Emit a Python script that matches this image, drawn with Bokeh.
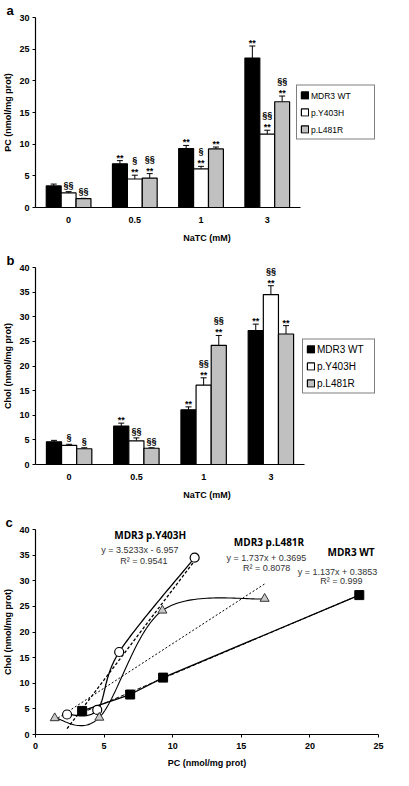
import numpy as np
from bokeh.plotting import figure
from bokeh.layouts import column
from bokeh.models import ColumnDataSource, Range1d, FixedTicker, Legend, LegendItem, Label
from bokeh.core.properties import value
from bokeh.embed import file_html
from bokeh.resources import INLINE

# ---------------- data ----------------
categories = ["0", "0.5", "1", "3"]          # NaTC (mM)
series = ["MDR3 WT", "p.Y403H", "p.L481R"]

pc_wt = [3.4, 6.9, 9.3, 23.6]
pc_y403h = [2.3, 4.5, 6.1, 11.6]
pc_l481r = [1.4, 4.65, 9.25, 16.7]
pc_wt_err = [0.3, 0.5, 0.5, 1.9]
pc_y403h_err = [0.2, 0.6, 0.4, 0.6]
pc_l481r_err = [0.05, 0.7, 0.3, 0.9]
pc_wt_star = ["", "**", "**", "**"]
pc_y403h_star = ["", "**", "**", "**"]
pc_l481r_star = ["", "**", "**", "**"]
pc_wt_sect = ["", "", "", ""]
pc_y403h_sect = ["§§", "§", "§", "§§"]
pc_l481r_sect = ["§§", "§§", "", "§§"]

chol_wt = [4.6, 7.8, 11.1, 27.2]
chol_y403h = [3.9, 4.8, 16.1, 34.5]
chol_l481r = [3.2, 3.3, 24.2, 26.5]
chol_wt_err = [0.3, 0.6, 0.6, 1.3]
chol_y403h_err = [0.2, 0.6, 1.5, 1.8]
chol_l481r_err = [0.2, 0.1, 2.0, 1.7]
chol_wt_star = ["", "**", "**", "**"]
chol_y403h_star = ["", "", "**", "**"]
chol_l481r_star = ["", "", "**", "**"]
chol_wt_sect = ["", "", "", ""]
chol_y403h_sect = ["§", "§§", "§§", "§§"]
chol_l481r_sect = ["§", "§§", "§§", ""]

trend_names = ["MDR3 WT", "MDR3 p.Y403H", "MDR3 p.L481R"]
trend_slope = [1.137, 3.5233, 1.737]
trend_intercept = [0.3853, -6.957, 0.3695]
trend_eq = ["y = 1.137x  + 0.3853", "y = 3.5233x  - 6.957", "y = 1.737x  + 0.3695"]
trend_r2 = ["R² = 0.999", "R² = 0.9541", "R² = 0.8078"]

pc_ticks = [0, 5, 10, 15, 20, 25, 30]
chol_ticks = [0, 5, 10, 15, 20, 25, 30, 35, 40]
pcx_ticks = [0, 5, 10, 15, 20, 25]

# ---------------- style ----------------
FONT = "Liberation Sans"
fill_colors = ["#000000", "#ffffff", "#c0c0c0"]
BAR_W = 0.225


def style_axes(p, letter, letter_offset):
    p.xgrid.visible = False
    p.ygrid.visible = False
    p.outline_line_color = None
    for ax in (p.xaxis[0], p.yaxis[0]):
        ax.axis_line_color = "black"
        ax.axis_line_width = 1.2
        ax.major_label_text_font = FONT
        ax.major_label_text_font_style = "bold"
        ax.major_label_text_font_size = "9px"
        ax.major_label_text_color = "black"
        ax.axis_label_text_font = FONT
        ax.axis_label_text_font_style = "bold"
        ax.axis_label_text_font_size = "9px"
        ax.axis_label_text_color = "black"
        ax.major_tick_in = 0
        ax.major_tick_out = 3
        ax.major_tick_line_color = "black"
        ax.minor_tick_line_color = None
    p.yaxis[0].major_label_standoff = 3
    p.yaxis[0].axis_label_standoff = 3
    # panel letter as the plot title, pushed left of the frame
    p.title.text = letter
    p.title.align = "left"
    p.title.offset = letter_offset
    p.title.standoff = 0
    p.title.text_font = FONT
    p.title.text_font_style = "bold"
    p.title.text_font_size = "13px"
    p.title.text_color = "black"


def bar_panel(height, top_border, bottom_border, right_border, x_end, ymax, yticks, ylabel,
              vals, errs, stars, sects, legend_font, legend_label_w, letter):
    n = len(categories)
    p = figure(width=393, height=height, output_backend="svg", toolbar_location=None,
               title=letter,
               x_range=Range1d(-0.5, x_end), y_range=Range1d(0, ymax),
               min_border_left=30, min_border_right=right_border,
               min_border_top=top_border, min_border_bottom=bottom_border)
    style_axes(p, letter, -29)
    xa = p.xaxis[0]
    centers = list(range(n))
    xa.bounds = (-0.5, n - 0.5)
    xa.ticker = FixedTicker(ticks=centers)
    xa.major_label_overrides = {c: lab for c, lab in zip(centers, categories)}
    xa.major_tick_line_color = None
    xa.major_label_standoff = 6
    xa.axis_label = "NaTC (mM)"
    xa.axis_label_standoff = 7
    ya = p.yaxis[0]
    ya.ticker = FixedTicker(ticks=yticks)
    ya.axis_label = ylabel

    items = []
    ann = {"star": ([], [], []), "low": ([], [], []), "up": ([], [], [])}
    for k, name in enumerate(series):
        xs = [c + (k - 1) * BAR_W for c in centers]
        tops = [v + e for v, e in zip(vals[k], errs[k])]
        src = ColumnDataSource(dict(x=xs, top=vals[k], up=tops))
        p.segment(x0="x", y0="top", x1="x", y1="up", source=src, line_color="black", line_width=1)
        p.scatter(x="x", y="up", source=src, marker="dash", size=6, line_color="black", line_width=1)
        r = p.vbar(x="x", top="top", bottom=0, width=BAR_W, source=src,
                   fill_color=fill_colors[k], line_color="black", line_width=1.2)
        items.append(LegendItem(label=name, renderers=[r]))
        for i in range(n):
            if stars[k][i]:
                for key, t in (("star", stars[k][i]), ("up", sects[k][i])):
                    if t:
                        ann[key][0].append(xs[i]); ann[key][1].append(tops[i]); ann[key][2].append(t)
            elif sects[k][i]:
                ann["low"][0].append(xs[i]); ann["low"][1].append(tops[i]); ann["low"][2].append(sects[k][i])
    for key, off in (("star", -3), ("low", -7), ("up", -15)):
        xs_, ys_, ts_ = ann[key]
        if xs_:
            p.text(x=xs_, y=ys_, text=ts_, y_offset=off, text_align="center",
                   text_baseline="alphabetic", text_font=value(FONT), text_font_style="bold",
                   text_font_size=value("9px"), text_color="black")
    leg = Legend(items=items, location="center_right", orientation="vertical",
                 border_line_color="black", border_line_width=1,
                 background_fill_color="white", background_fill_alpha=1,
                 padding=3, spacing=4, margin=3, label_height=13, label_width=legend_label_w,
                 glyph_height=9, glyph_width=9, label_standoff=2,
                 label_text_font=FONT, label_text_font_size=legend_font,
                 label_text_color="black")
    p.add_layout(leg)
    return p


pa = bar_panel(250, 5, 43, 3, 4.68, 30, pc_ticks, "PC (nmol/mg prot)",
               [pc_wt, pc_y403h, pc_l481r], [pc_wt_err, pc_y403h_err, pc_l481r_err],
               [pc_wt_star, pc_y403h_star, pc_l481r_star],
               [pc_wt_sect, pc_y403h_sect, pc_l481r_sect], "8.5px", 60, "a")

pb = bar_panel(262, 13, 48, 15, 4.6, 40, chol_ticks, "Chol (nmol/mg prot)",
               [chol_wt, chol_y403h, chol_l481r], [chol_wt_err, chol_y403h_err, chol_l481r_err],
               [chol_wt_star, chol_y403h_star, chol_l481r_star],
               [chol_wt_sect, chol_y403h_sect, chol_l481r_sect], "10px", 54, "b")


# ---------------- panel c ----------------
def smooth(xs, ys, n=40):
    P = np.column_stack([xs, ys]).astype(float)
    out = []
    t = np.linspace(0, 1, n)[:, None]
    for i in range(len(P) - 1):
        p0 = P[i - 1] if i > 0 else P[i]
        p1, p2 = P[i], P[i + 1]
        p3 = P[i + 2] if i + 2 < len(P) else P[i + 1]
        b1 = p1 + (p2 - p0) / 6
        b2 = p2 - (p3 - p1) / 6
        seg = (1 - t) ** 3 * p1 + 3 * (1 - t) ** 2 * t * b1 + 3 * (1 - t) * t ** 2 * b2 + t ** 3 * p2
        out.append(seg if i == 0 else seg[1:])
    a = np.vstack(out)
    return a[:, 0].tolist(), a[:, 1].tolist()


pc = figure(width=393, height=258, output_backend="svg", toolbar_location=None,
            title="c",
            x_range=Range1d(0, 25), y_range=Range1d(0, 40),
            min_border_left=31, min_border_right=6, min_border_top=16, min_border_bottom=32)
style_axes(pc, "c", -30)
pc.xaxis[0].ticker = FixedTicker(ticks=pcx_ticks)
pc.yaxis[0].ticker = FixedTicker(ticks=chol_ticks)
pc.xaxis[0].axis_label = "PC (nmol/mg prot)"
pc.yaxis[0].axis_label = "Chol (nmol/mg prot)"
pc.xaxis[0].major_label_standoff = 5
pc.xaxis[0].axis_label_standoff = 6

xs_all = [pc_wt, pc_y403h, pc_l481r]
ys_all = [chol_wt, chol_y403h, chol_l481r]

trend_dash = ["4 2", "3 2", "2 2"]
trend_w = [1, 1.3, 1]
for k in range(3):
    x0, x1 = min(xs_all[k]), max(xs_all[k])
    pc.line([x0, x1], [trend_slope[k] * x0 + trend_intercept[k], trend_slope[k] * x1 + trend_intercept[k]],
            line_color="black", line_dash=trend_dash[k], line_width=trend_w[k])

pc.line(pc_wt, chol_wt, line_color="black", line_width=1.3)
sx, sy = smooth(pc_y403h, chol_y403h)
pc.line(sx, sy, line_color="black", line_width=1.3)
sx, sy = smooth(pc_l481r, chol_l481r)
pc.line(sx, sy, line_color="black", line_width=1.1)

pc.scatter(pc_wt, chol_wt, marker="square", size=9, fill_color="black", line_color="black")
pc.scatter(pc_y403h, chol_y403h, marker="circle", size=9, fill_color="white",
           line_color="black", line_width=1.2)
pc.scatter(pc_l481r, chol_l481r, marker="triangle", size=9, fill_color="#c8c8c8",
           line_color="#333333", line_width=1)

title_pos = [(23.0, 35.6), (8.36, 39.0), (17.02, 37.5)]
eq_pos = [(22.1, 31.8), (7.70, 36.0), (16.92, 34.5)]
r2_pos = [(22.3, 29.9), (7.90, 33.9), (16.85, 32.4)]
for k in range(3):
    pc.add_layout(Label(x=title_pos[k][0], y=title_pos[k][1], text=trend_names[k],
                        text_font="Open Sans", text_font_style="bold", text_font_size="10px",
                        text_align="center", text_baseline="middle", text_color="black"))
    pc.add_layout(Label(x=eq_pos[k][0], y=eq_pos[k][1], text=trend_eq[k],
                        text_font=FONT, text_font_size="9px",
                        text_align="center", text_baseline="middle", text_color="#333333"))
    pc.add_layout(Label(x=r2_pos[k][0], y=r2_pos[k][1], text=trend_r2[k],
                        text_font=FONT, text_font_size="9px",
                        text_align="center", text_baseline="middle", text_color="#333333"))

layout = column(pa, pb, pc)
with open("out.html", "w", encoding="utf-8") as f:
    f.write(file_html(layout, INLINE))
